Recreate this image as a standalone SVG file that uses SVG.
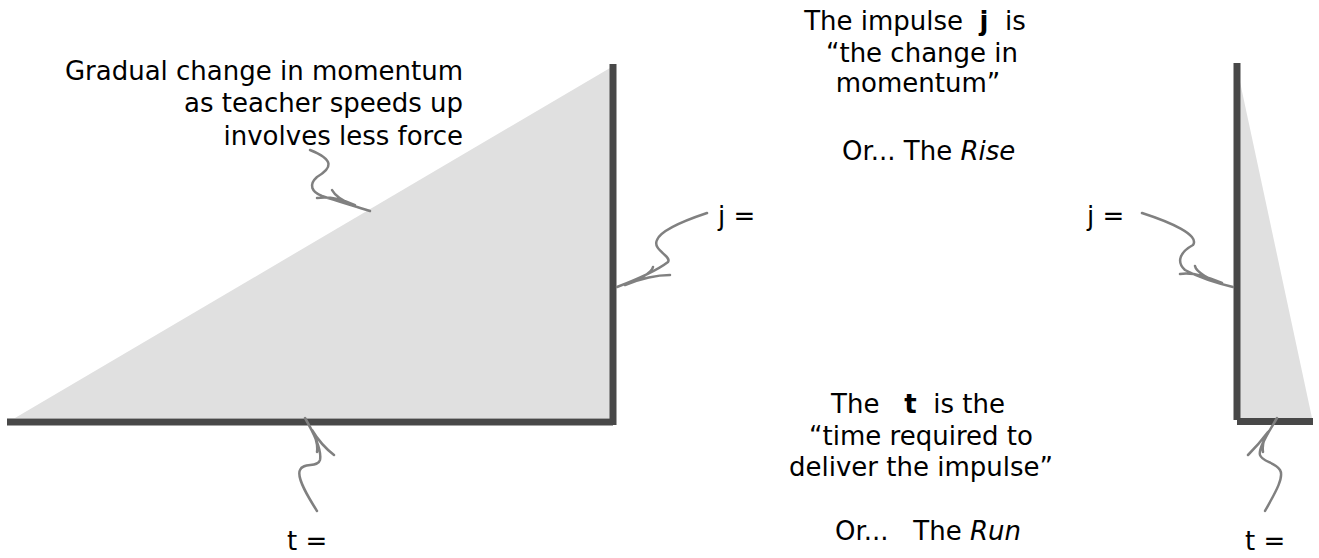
<svg xmlns="http://www.w3.org/2000/svg" width="1319" height="558" viewBox="0 0 1319 558">
<style>
text{font-family:"DejaVu Sans","Liberation Sans",sans-serif;font-size:26px;fill:#000;white-space:pre}
.fill{fill:#e0e0e0;stroke:none}
.bar{stroke:#484848;stroke-width:7;fill:none}
.conn{stroke:#808080;stroke-width:2.5;fill:none;stroke-linecap:round;stroke-linejoin:round}
</style>
<rect width="1319" height="558" fill="#fff"/>
<g id="left-triangle">
<polygon class="fill" points="15,418 610,68 610,418"/>
<line class="bar" x1="613" y1="64" x2="613" y2="425"/>
<line class="bar" x1="7" y1="422" x2="613" y2="422"/>
</g>
<g id="right-triangle">
<polygon class="fill" points="1240,82 1240,418 1312,418"/>
<line class="bar" x1="1237" y1="63" x2="1237" y2="420"/>
<line class="bar" x1="1237" y1="421.5" x2="1313" y2="421.5"/>
</g>
<g id="gradual-label">
<text x="463" y="80" text-anchor="end">Gradual change in momentum</text>
<text x="463" y="112" text-anchor="end">as teacher speeds up</text>
<text x="463" y="145" text-anchor="end">involves less force</text>
</g>
<g id="impulse-label">
<text x="915" y="30" text-anchor="middle" xml:space="preserve">The impulse  <tspan font-weight="bold">j</tspan>  is</text>
<text x="922" y="62" text-anchor="middle">“the change in</text>
<text x="918" y="92" text-anchor="middle">momentum”</text>
<text x="842" y="160" xml:space="preserve">Or... The <tspan font-style="italic">Rise</tspan></text>
</g>
<g id="time-label">
<text x="918" y="413" text-anchor="middle" xml:space="preserve">The   <tspan font-weight="bold">t</tspan>  is the</text>
<text x="921" y="445" text-anchor="middle">“time required to</text>
<text x="921" y="476" text-anchor="middle">deliver the impulse”</text>
<text x="835" y="540" xml:space="preserve">Or...   The <tspan font-style="italic">Run</tspan></text>
</g>
<g id="j-left"><text x="718" y="225">j =</text></g>
<g id="j-right"><text x="1087" y="225">j =</text></g>
<g id="t-left"><text x="287" y="550">t =</text></g>
<g id="t-right"><text x="1245" y="550">t =</text></g>
<g id="connectors">
<path class="conn" d="M310,150 C335,160 332,168 317,177 C308,185 312,192 322,196 C340,202 355,206 370,211 M317,198 C330,196 345,200 355,205 M332,190 C335,196 345,202 355,206"/>
<path class="conn" d="M707,213 C680,222 660,232 657,240 C652,250 672,256 668,262 C655,272 630,282 617,287 M670,275 C655,275 640,279 625,285 M653,267 C652,272 640,280 625,285"/>
<path class="conn" d="M1142,213 C1170,222 1200,235 1193,245 C1180,252 1176,262 1185,270 C1200,278 1220,284 1233,287 M1180,274 C1195,272 1210,278 1222,283 M1195,266 C1196,272 1210,280 1222,284"/>
<path class="conn" d="M317,511 C310,500 296,478 300,470 C303,462 318,468 320,460 C322,450 312,430 305,418 M334,455 C325,448 318,440 312,430 M317,452 C318,445 316,438 312,430"/>
<path class="conn" d="M1265,511 C1272,498 1285,478 1280,470 C1275,462 1262,462 1260,455 C1258,448 1270,430 1277,418 M1248,455 C1255,448 1262,440 1268,432 M1263,452 C1262,445 1264,438 1268,432"/>
</g>
</svg>
